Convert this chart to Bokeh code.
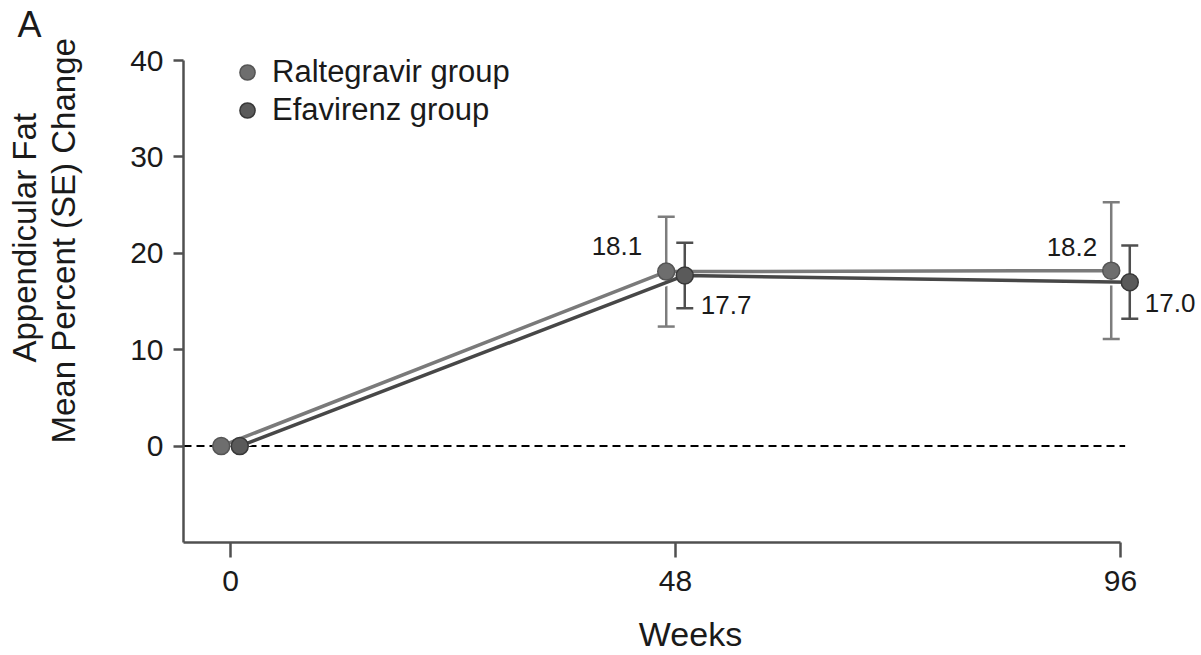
from bokeh.plotting import figure
from bokeh.models import (ColumnDataSource, Whisker, Legend, LegendItem, LinearAxis,
                          FixedTicker, Range1d, TeeHead, Title)
from bokeh.transform import dodge
from bokeh.core.properties import value
from bokeh.embed import file_html
from bokeh.resources import INLINE

# ---- data ----
weeks = [0, 48, 96]
ral_mean = [0.0, 18.1, 18.2]
ral_se = [0.0, 5.7, 7.1]
efa_mean = [0.0, 17.7, 17.0]
efa_se = [0.0, 3.4, 3.8]
x_ticks = [0, 48, 96]
y_ticks = [0, 10, 20, 30, 40]
series_names = ["Raltegravir group", "Efavirenz group"]
y_title_lines = ["Appendicular Fat", "Mean Percent (SE) Change"]
panel_letter = "A"
x_title = "Weeks"
ral_label_idx = [1, 2]
efa_label_idx = [1, 2]

FONT = "Liberation Sans"
TXT = "#1a1a1a"

ral = ColumnDataSource(dict(
    w=weeks, m=ral_mean,
    lo=[a - b for a, b in zip(ral_mean, ral_se)],
    hi=[a + b for a, b in zip(ral_mean, ral_se)],
))
efa = ColumnDataSource(dict(
    w=weeks, m=efa_mean,
    lo=[a - b for a, b in zip(efa_mean, efa_se)],
    hi=[a + b for a, b in zip(efa_mean, efa_se)],
))

# ---- layout geometry (pixels) ----
W, H = 1199, 655
FL, FR, FT, FB = 183, 1197, 44, 542          # frame edges
X0_PX, X96_PX = 230, 1120
PXW = (X96_PX - X0_PX) / 96.0
YMIN, YAX = -10, 40
PXY = (FB - 60) / (YAX - YMIN)               # y=40 sits at 60 px
XMIN = (FL - X0_PX) / PXW
XMAX = 96 + (FR - X96_PX) / PXW
YMAX = YAX + (60 - FT) / PXY

p = figure(width=W, height=H, output_backend="svg", toolbar_location=None,
           x_range=Range1d(XMIN, XMAX), y_range=Range1d(YMIN, YMAX),
           min_border_left=FL, min_border_right=W - FR,
           min_border_top=FT, min_border_bottom=H - FB)
p.outline_line_color = None
p.xgrid.visible = False
p.ygrid.visible = False
p.background_fill_color = "white"
p.border_fill_color = "white"

for ax in (p.xaxis[0], p.yaxis[0]):
    ax.axis_line_color = "#505050"
    ax.axis_line_width = 2.5
    ax.major_tick_line_color = "#505050"
    ax.major_tick_line_width = 2.5
    ax.major_tick_in = 0
    ax.minor_tick_line_color = None
    ax.major_label_text_font = FONT
    ax.major_label_text_font_size = "30px"
    ax.major_label_text_color = TXT

p.xaxis.bounds = (XMIN, 96)
p.yaxis.bounds = (YMIN, YAX)
p.xaxis.ticker = FixedTicker(ticks=x_ticks)
p.yaxis.ticker = FixedTicker(ticks=y_ticks)
p.xaxis.major_tick_out = 15
p.yaxis.major_tick_out = 10
p.xaxis.major_label_standoff = 13
p.yaxis.major_label_standoff = 10
p.xaxis.axis_label = x_title
p.xaxis.axis_label_text_font = FONT
p.xaxis.axis_label_text_font_size = "34px"
p.xaxis.axis_label_text_font_style = "normal"
p.xaxis.axis_label_text_color = TXT
p.xaxis.axis_label_standoff = 21

# spacer axis (invisible tick, empty label) to leave the gap before the y title
spacer = LinearAxis(ticker=FixedTicker(ticks=[YMIN]), axis_line_color=None,
                    major_tick_line_color=None, minor_tick_line_color=None,
                    major_tick_out=46, major_tick_in=0, major_label_standoff=0,
                    major_label_overrides={YMIN: ""})
p.add_layout(spacer, "left")

# y-axis title: two lines, inner line first; offsets lift them like the original
for txt, off in ((y_title_lines[1], 99), (y_title_lines[0], 180)):
    p.add_layout(Title(text=txt, align="left", offset=off, standoff=0,
                       text_font=FONT, text_font_size="33px",
                       text_font_style="normal", text_color=TXT), "left")

# panel letter
p.add_layout(Title(text=panel_letter, align="left", offset=17 - FL, standoff=0,
                   vertical_align="bottom", text_font=FONT, text_font_size="36px",
                   text_font_style="normal", text_color=TXT), "above")

# zero reference line (dashed)
p.segment(x0=[XMIN], x1=[96.5], y0=[0], y1=[0], line_color="black",
          line_width=2, line_dash="8 5")

RAL_C = "#7a7a7a"
EFA_C = "#474747"
xr = dodge("w", -1.0)
xe = dodge("w", 1.0)

# lines with a white halo
p.line(x=xr, y="m", source=ral, line_color="white", line_width=7)
p.line(x=xe, y="m", source=efa, line_color="white", line_width=7)
p.line(x=xr, y="m", source=ral, line_color=RAL_C, line_width=3.5)
p.line(x=xe, y="m", source=efa, line_color=EFA_C, line_width=3.5)

# error bars
for src, col, xx in ((ral, "#7d7d7d", -1.0), (efa, "#4f4f4f", 1.0)):
    wk = Whisker(base=dodge("w", xx), upper="hi", lower="lo", source=src,
                 line_color=col, line_width=2.5)
    wk.upper_head = TeeHead(size=17, line_color=col, line_width=2.5)
    wk.lower_head = TeeHead(size=17, line_color=col, line_width=2.5)
    p.add_layout(wk)

r_ral = p.scatter(x=xr, y="m", source=ral, size=17, fill_color="#6e6e6e",
                  line_color="#555555", line_width=1.5)
r_efa = p.scatter(x=xe, y="m", source=efa, size=17, fill_color="#5a5a5a",
                  line_color="#383838", line_width=1.5)

# value labels
ral_lab = ColumnDataSource(dict(
    w=[weeks[i] for i in ral_label_idx], m=[ral_mean[i] for i in ral_label_idx],
    t=["%.1f" % ral_mean[i] for i in ral_label_idx],
    xo=[-24, -14], yo=[-26, -24]))
efa_lab = ColumnDataSource(dict(
    w=[weeks[i] for i in efa_label_idx], m=[efa_mean[i] for i in efa_label_idx],
    t=["%.1f" % efa_mean[i] for i in efa_label_idx],
    xo=[16, 15], yo=[30, 21]))
p.text(x=xr, y="m", text="t", source=ral_lab, x_offset="xo", y_offset="yo",
       text_align="right", text_baseline="middle", text_font=value(FONT),
       text_font_size="26px", text_color=TXT)
p.text(x=xe, y="m", text="t", source=efa_lab, x_offset="xo", y_offset="yo",
       text_align="left", text_baseline="middle", text_font=value(FONT),
       text_font_size="26px", text_color=TXT)

# legend (location = offset of its bottom-left corner from the frame's bottom-left)
legend = Legend(items=[LegendItem(label=series_names[0], renderers=[r_ral]),
                       LegendItem(label=series_names[1], renderers=[r_efa])],
                location=(45, FB - 129), padding=0, spacing=0, margin=0,
                glyph_width=38, glyph_height=38, label_height=38,
                label_standoff=6, border_line_color=None,
                background_fill_alpha=0,
                label_text_font=FONT, label_text_font_size="31px",
                label_text_color=TXT)
p.add_layout(legend)

open("out.html", "w").write(file_html(p, INLINE))
